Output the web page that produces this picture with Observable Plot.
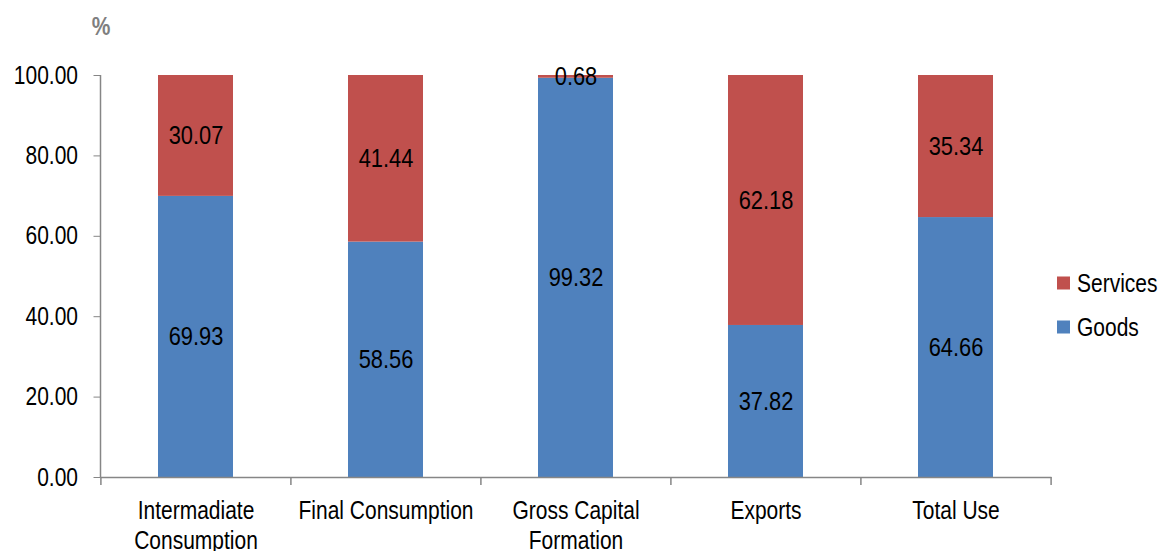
<!DOCTYPE html>
<html>
<head>
<meta charset="utf-8">
<script src="https://cdn.jsdelivr.net/npm/d3@7"></script>
<script src="https://cdn.jsdelivr.net/npm/@observablehq/plot@0.6"></script>
<style>
  html, body { margin: 0; padding: 0; background: #fff; }
  #chart svg { display: block; }
</style>
</head>
<body>
<div id="chart"></div>
<script>
const categories = ["Intermadiate\nConsumption", "Final Consumption", "Gross Capital\nFormation", "Exports", "Total Use"];
const seriesNames = ["Goods", "Services"];
const goods = [69.93, 58.56, 99.32, 37.82, 64.66];
const services = [30.07, 41.44, 0.68, 62.18, 35.34];
const seriesColors = ["#4F81BD", "#C0504D"];
const yTicks = [0, 20, 40, 60, 80, 100];
const unitLabel = "%";

const FONT = "'Liberation Sans', Arial, sans-serif";
const FS = 25;
const NARROW = 0.84;
const W = 1163, H = 551;
const mL = 100.5, mR = 111.5, mT = 75, mB = 74;
const halfStep = (W - mL - mR) / categories.length / 2;
const axisGray = "#868686";

const data = [];
categories.forEach((c, i) => {
  data.push({category: c, series: seriesNames[0], value: goods[i]});
  data.push({category: c, series: seriesNames[1], value: services[i]});
});

const chart = Plot.plot({
  width: W,
  height: H,
  marginLeft: mL,
  marginRight: mR,
  marginTop: mT,
  marginBottom: mB,
  style: {fontFamily: FONT, fontSize: FS + "px", color: "#000", background: "#fff"},
  x: {domain: categories, paddingInner: 0.603, paddingOuter: 0.3015, label: null},
  y: {domain: [0, 100], label: null},
  color: {domain: seriesNames, range: seriesColors},
  marks: [
    Plot.barY(data, {x: "category", y: "value", fill: "series", z: "series"}),
    Plot.text(data, Plot.stackY({
      x: "category", y: "value", z: "series",
      text: d => d.value.toFixed(2),
      fill: "#000", fontSize: FS + 1
    })),
    Plot.axisY({
      ticks: yTicks, tickFormat: d => d.toFixed(2), tickSize: 7, tickPadding: 16,
      stroke: axisGray, fill: "#000", fontSize: FS, label: null
    }),
    Plot.axisX({
      tickSize: 0, tickPadding: 20, lineHeight: 1.2, fill: "#000", fontSize: FS, label: null
    }),
    Plot.ruleY([0], {stroke: axisGray, strokeWidth: 1.5}),
    Plot.ruleX(categories, {x: d => d, dx: -halfStep, y1: 0, y2: 0, insetBottom: -8, stroke: axisGray, strokeWidth: 1.5}),
    Plot.ruleX(categories.slice(-1), {x: d => d, dx: halfStep, y1: 0, y2: 0, insetBottom: -8, stroke: axisGray, strokeWidth: 1.5})
  ]
});

const svg = d3.select(chart);
const yS = chart.scale("y");
svg.append("line")
  .attr("x1", mL).attr("x2", mL)
  .attr("y1", yS.apply(100)).attr("y2", yS.apply(0))
  .attr("stroke", axisGray).attr("stroke-width", 1.5);

svg.append("text")
  .attr("x", 101).attr("y", 35)
  .attr("text-anchor", "middle")
  .attr("font-family", FONT)
  .attr("font-size", 25).attr("font-weight", "bold")
  .attr("fill", "#7f7f7f")
  .text(unitLabel);

const legendItems = [
  {name: seriesNames[1], color: seriesColors[1], y: 283},
  {name: seriesNames[0], color: seriesColors[0], y: 327}
];
const lg = svg.append("g").attr("font-family", FONT).attr("font-size", FS);
legendItems.forEach(it => {
  lg.append("rect").attr("x", 1057).attr("y", it.y - 6.5).attr("width", 13).attr("height", 13).attr("fill", it.color);
  lg.append("text").attr("x", 1077).attr("y", it.y).attr("dy", "0.35em")
    .attr("text-anchor", "start").attr("fill", "#000").text(it.name);
});

document.getElementById("chart").appendChild(chart);

// condense text horizontally (reference uses a narrow typeface)
chart.querySelectorAll("text").forEach(t => {
  const anchor = getComputedStyle(t).textAnchor;
  const b = t.getBBox();
  const px = anchor === "middle" ? b.x + b.width / 2 : anchor === "end" ? b.x + b.width : b.x;
  const tr = t.getAttribute("transform") || "";
  t.setAttribute("transform", `${tr} translate(${px},0) scale(${NARROW},1) translate(${-px},0)`.trim());
});
</script>
</body>
</html>
